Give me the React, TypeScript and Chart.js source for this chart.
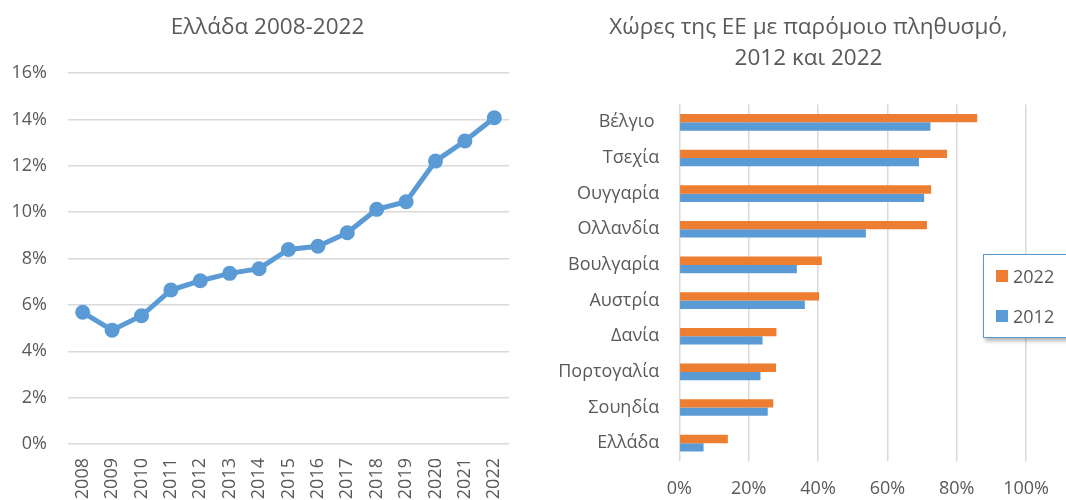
import React, { useEffect, useRef } from "react";
import { Chart, registerables } from "chart.js";
Chart.register(...registerables);

const years = ["2008", "2009", "2010", "2011", "2012", "2013", "2014", "2015", "2016", "2017", "2018", "2019", "2020", "2021", "2022"];
const greeceShare = [5.68, 4.91, 5.53, 6.64, 7.04, 7.36, 7.56, 8.39, 8.53, 9.11, 10.12, 10.45, 12.2, 13.07, 14.07];
const leftTitle = "Ελλάδα 2008-2022";

const countries = ["Βέλγιο ", "Τσεχία", "Ουγγαρία", "Ολλανδία", "Βουλγαρία", "Αυστρία", "Δανία", "Πορτογαλία", "Σουηδία", "Ελλάδα"];
const values2022 = [85.9, 77.2, 72.6, 71.4, 41.1, 40.3, 28.0, 27.9, 27.1, 14.0];
const values2012 = [72.4, 69.1, 70.6, 53.8, 33.9, 36.2, 24.0, 23.4, 25.5, 7.0];
const seriesLabels = ["2022", "2012"];
const seriesColors = ["#ED7D31", "#5B9BD5"];
const rightTitle = ["Χώρες της ΕΕ με παρόμοιο πληθυσμό,", "2012 και 2022"];

const FONT = "'Open Sans', sans-serif";
const TEXT = "#595959";
const GRID = "#D9D9D9";
const TITLE_SIZE = 22.5;

export default function App() {
  const leftRef = useRef<HTMLCanvasElement | null>(null);
  const rightRef = useRef<HTMLCanvasElement | null>(null);

  useEffect(() => {
    const left = new Chart(leftRef.current!, {
      type: "line",
      data: {
        labels: years,
        datasets: [
          {
            data: greeceShare,
            borderColor: "#5B9BD5",
            backgroundColor: "#5B9BD5",
            borderWidth: 5,
            pointRadius: 7.5,
            pointHoverRadius: 7.5,
            pointBackgroundColor: "#5B9BD5",
            pointBorderWidth: 0,
            tension: 0,
          },
        ],
      },
      options: {
        responsive: false,
        animation: false,
        layout: { padding: { left: 0, right: 25, top: 73, bottom: 0 } },
        plugins: {
          legend: { display: false },
          tooltip: { enabled: false },
          title: { display: false },
        },
        scales: {
          x: {
            offset: true,
            grid: { display: false, drawTicks: false },
            border: { display: false },
            ticks: {
              color: TEXT,
              font: { family: FONT, size: 18 },
              minRotation: 90,
              maxRotation: 90,
              autoSkip: false,
              padding: 14,
            },
            afterFit: (s: any) => {
              s.height = 56;
            },
          },
          y: {
            min: 0,
            max: 16,
            grid: { color: GRID, lineWidth: 1.5, drawTicks: false },
            border: { display: false },
            ticks: {
              stepSize: 2,
              color: TEXT,
              font: { family: FONT, size: 18 },
              padding: 21,
              callback: (v: any) => v + "%",
            },
            afterFit: (s: any) => {
              s.width = 68;
            },
          },
        },
      },
    });

    const right = new Chart(rightRef.current!, {
      type: "bar",
      data: {
        labels: countries,
        datasets: [
          {
            label: seriesLabels[0],
            data: values2022,
            backgroundColor: seriesColors[0],
            borderWidth: 0,
            categoryPercentage: 0.468,
            barPercentage: 1,
          },
          {
            label: seriesLabels[1],
            data: values2012,
            backgroundColor: seriesColors[1],
            borderWidth: 0,
            categoryPercentage: 0.468,
            barPercentage: 1,
          },
        ],
      },
      options: {
        indexAxis: "y",
        responsive: false,
        animation: false,
        layout: { padding: { left: 0, right: 516 - 476.3, top: 104.5, bottom: 0 } },
        plugins: {
          legend: { display: false },
          tooltip: { enabled: false },
          title: { display: false },
        },
        scales: {
          x: {
            min: 0,
            max: 100,
            grid: { color: GRID, lineWidth: 1.5, drawTicks: false },
            border: { display: false },
            ticks: {
              stepSize: 20,
              color: TEXT,
              font: { family: FONT, size: 18 },
              padding: 17,
              callback: (v: any) => v + "%",
            },
            afterFit: (s: any) => {
              s.height = 39;
            },
          },
          y: {
            grid: { display: false, drawTicks: false },
            border: { display: false },
            ticks: {
              color: TEXT,
              font: { family: FONT, size: 18 },
              padding: 20,
              autoSkip: false,
            },
            afterFit: (s: any) => {
              s.width = 129.3;
            },
          },
        },
      },
    });

    return () => {
      left.destroy();
      right.destroy();
    };
  }, []);

  const titleStyle = (cx: number, top: number): React.CSSProperties => ({
    position: "absolute",
    left: cx - 300,
    top,
    width: 600,
    textAlign: "center",
    fontFamily: FONT,
    fontSize: TITLE_SIZE,
    lineHeight: "30.5px",
    color: TEXT,
    whiteSpace: "nowrap",
  });

  return (
    <div
      style={{
        position: "fixed",
        left: 0,
        top: 0,
        width: 1066,
        height: 500,
        background: "#fff",
        overflow: "hidden",
      }}
    >
      <canvas
        ref={leftRef}
        width={534}
        height={500}
        style={{ position: "absolute", left: 0, top: 0, width: 534, height: 500 }}
      />
      <canvas
        ref={rightRef}
        width={516}
        height={500}
        style={{ position: "absolute", left: 550, top: 0, width: 516, height: 500 }}
      />
      <div style={titleStyle(267.5, 11)}>{leftTitle}</div>
      <div style={titleStyle(808.5, 11)}>
        {rightTitle.map((line) => (
          <div key={line}>{line}</div>
        ))}
      </div>
      <div
        style={{
          position: "absolute",
          left: 983,
          top: 254,
          width: 100,
          height: 82,
          border: "1.5px solid #5B9BD5",
          background: "#fff",
          boxShadow: "2px 3px 4px rgba(0,0,0,0.3)",
          fontFamily: FONT,
          fontSize: 18,
          color: TEXT,
        }}
      >
        {seriesLabels.map((lab, i) => (
          <div
            key={lab}
            style={{
              position: "absolute",
              left: 12,
              top: i === 0 ? 8 : 48,
              display: "flex",
              alignItems: "center",
              height: 26,
            }}
          >
            <span
              style={{
                display: "inline-block",
                width: 12,
                height: 12,
                background: seriesColors[i],
                marginRight: 5,
              }}
            />
            <span>{lab}</span>
          </div>
        ))}
      </div>
    </div>
  );
}
